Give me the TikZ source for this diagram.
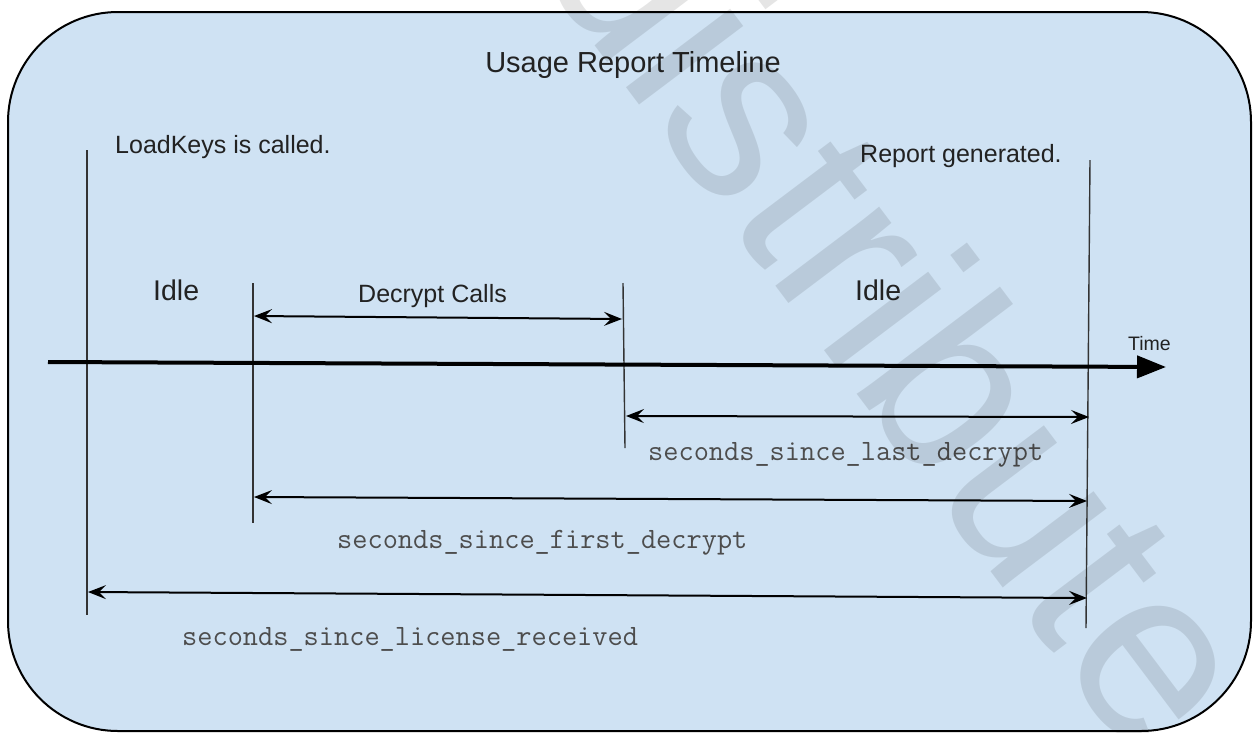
\documentclass[tikz,border=0pt]{standalone}
\usepackage{fontspec}
\setmainfont{Liberation Sans}
\usetikzlibrary{arrows.meta}
\definecolor{boxblue}{HTML}{CFE2F3}
\definecolor{labelgray}{HTML}{222222}
\definecolor{monogray}{HTML}{4D4D4D}
\definecolor{tickgray}{HTML}{333333}
\tikzset{
  lbl/.style={inner sep=0pt, anchor=base west, text=labelgray, font=\fontsize{25}{30}\selectfont},
  idlelbl/.style={lbl, font=\fontsize{28.5}{34}\selectfont},
  monolbl/.style={inner sep=0pt, anchor=base west, text=monogray, font=\ttfamily\fontsize{29.5}{35}\selectfont},
  tick/.style={draw=tickgray, line width=1.4pt},
  span/.style={draw=black, line width=2pt, {Stealth[length=18pt, width=14pt, inset=7pt]}-{Stealth[length=18pt, width=14pt, inset=7pt]}},
  timeaxis/.style={draw=black, line width=4pt, -{Triangle[length=29pt, width=22pt]}},
  frame/.style={draw=black, line width=2pt, fill=boxblue, rounded corners=110pt},
  watermark/.style={inner sep=0pt, anchor=base west, rotate=-53, text=black, text opacity=0.1, font=\fontsize{247}{247}\selectfont}
}
\begin{document}
\begin{tikzpicture}[x=1pt, y=-1pt]
\useasboundingbox (0,0) rectangle (1253,732);
\fill[white] (0,0) rectangle (1253,732);
\path[frame] (8,12) rectangle (1251,731);

% texts
\node[lbl, anchor=base, font=\fontsize{29}{35}\selectfont] (title) at (633,72) {Usage Report Timeline};
\node[lbl] (load) at (115,153) {LoadKeys is called.};
\node[lbl] (report) at (860,162) {Report generated.};
\node[idlelbl] (idleA) at (153,300) {Idle};
\node[idlelbl] (idleB) at (855,300) {Idle};
\node[lbl] (decrypt) at (358,302) {Decrypt Calls};
\node[lbl, font=\fontsize{19.5}{24}\selectfont] (time) at (1128,350) {Time};
\node[monolbl] (lastlbl) at (648,460) {seconds\_since\_last\_decrypt};
\node[monolbl] (firstlbl) at (337,548) {seconds\_since\_first\_decrypt};
\node[monolbl] (liclbl) at (182,645) {seconds\_since\_license\_received};

% vertical markers
\coordinate (v1t) at (87,150);  \coordinate (v1b) at (87,615);
\coordinate (v2t) at (253,283); \coordinate (v2b) at (253,523);
\coordinate (v3t) at (623,283); \coordinate (v3b) at (625,448);
\coordinate (v4t) at (1090,160); \coordinate (v4b) at (1086,628);
\draw[tick] (v1t) -- (v1b);
\draw[tick] (v2t) -- (v2b);
\draw[tick] (v3t) -- (v3b);
\draw[tick] (v4t) -- (v4b);

% time axis
\coordinate (ax0) at (48,362);
\coordinate (ax1) at (1166,367);
\draw[timeaxis] (ax0) -- (ax1);

% spans
\coordinate (dcA) at (254,316);  \coordinate (dcB) at (622,319);
\coordinate (laA) at (626,416);  \coordinate (laB) at (1089,417);
\coordinate (fiA) at (254,497);  \coordinate (fiB) at (1087,501);
\coordinate (liA) at (88,592);   \coordinate (liB) at (1087,598);
\draw[span] (dcA) -- (dcB);
\draw[span] (laA) -- (laB);
\draw[span] (fiA) -- (fiB);
\draw[span] (liA) -- (liB);

% watermark
\node[watermark] (wm) at (534,-35) {distribute};
\end{tikzpicture}
\end{document}
